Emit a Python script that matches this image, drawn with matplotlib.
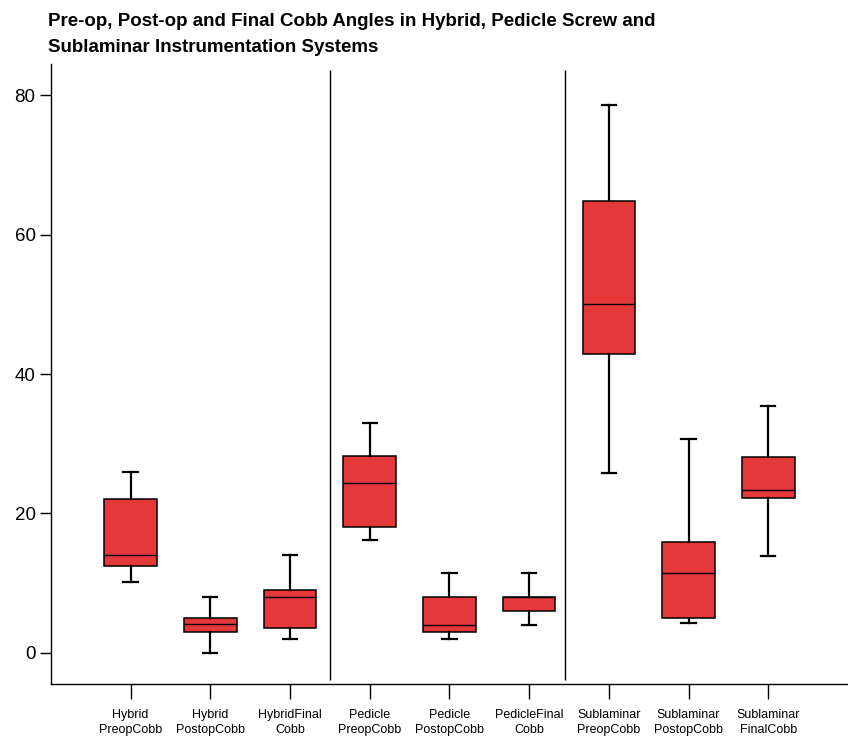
import matplotlib.pyplot as plt
from matplotlib import font_manager

# five-number summaries
labels = ["Hybrid\nPreopCobb", "Hybrid\nPostopCobb", "HybridFinal\nCobb",
          "Pedicle\nPreopCobb", "Pedicle\nPostopCobb", "PedicleFinal\nCobb",
          "Sublaminar\nPreopCobb", "Sublaminar\nPostopCobb", "Sublaminar\nFinalCobb"]
whislo = [10.1, 0.0, 1.9, 16.2, 1.9, 4.0, 25.8, 4.2, 13.8]
q1 = [12.5, 3.0, 3.5, 18.0, 3.0, 6.0, 42.9, 5.0, 22.2]
med = [14.0, 4.05, 8.05, 24.4, 4.0, 8.0, 50.0, 11.4, 23.4]
q3 = [22.0, 5.0, 9.0, 28.2, 8.0, 8.0, 64.9, 15.9, 28.1]
whishi = [26.0, 8.05, 14.05, 33.0, 11.5, 11.5, 78.6, 30.6, 35.4]
group_breaks = [3.5, 6.45]

fams = [f.name for f in font_manager.fontManager.ttflist]
base = "Liberation Sans Narrow" if "Liberation Sans Narrow" in fams else "Liberation Sans"
plt.rcParams['font.family'] = [base, 'DejaVu Sans']

stats = []
for i in range(len(labels)):
    stats.append(dict(label=labels[i], whislo=whislo[i], q1=q1[i], med=med[i],
                      q3=q3[i], whishi=whishi[i], fliers=[]))

fig = plt.figure(figsize=(8.48, 7.37), dpi=100)
ax = fig.add_axes([0.060, 0.072, 0.940, 0.841])

ax.bxp(stats, positions=range(1, 10), widths=0.66, capwidths=0.18,
       patch_artist=True, showfliers=False,
       boxprops=dict(facecolor='#E5383B', edgecolor='black', linewidth=1.1),
       medianprops=dict(color='black', linewidth=1.0),
       whiskerprops=dict(color='black', linewidth=1.6),
       capprops=dict(color='black', linewidth=1.6))

ax.vlines(group_breaks, -3.9, 83.6, color='black', linewidth=1.0)

ax.set_xlim(0, 10)
ax.set_ylim(-4.5, 84.5)
ax.set_yticks([0, 20, 40, 60, 80])
ax.tick_params(axis='y', labelsize=13.5, length=8, width=1, pad=3)
ax.tick_params(axis='x', labelsize=9, length=11, width=1, pad=7)
for t in ax.get_xticklabels():
    t.set_linespacing(1.35)
for s in ['top', 'right']:
    ax.spines[s].set_visible(False)
ax.spines['left'].set_linewidth(1.0)
ax.spines['bottom'].set_linewidth(1.0)

fig.text(0.057, 0.983, "Pre-op, Post-op and Final Cobb Angles in Hybrid, Pedicle Screw and\n"
         "Sublaminar Instrumentation Systems", ha='left', va='top',
         fontsize=13.5, fontweight='bold', linespacing=1.75)

fig.savefig("out.png", dpi=100)
